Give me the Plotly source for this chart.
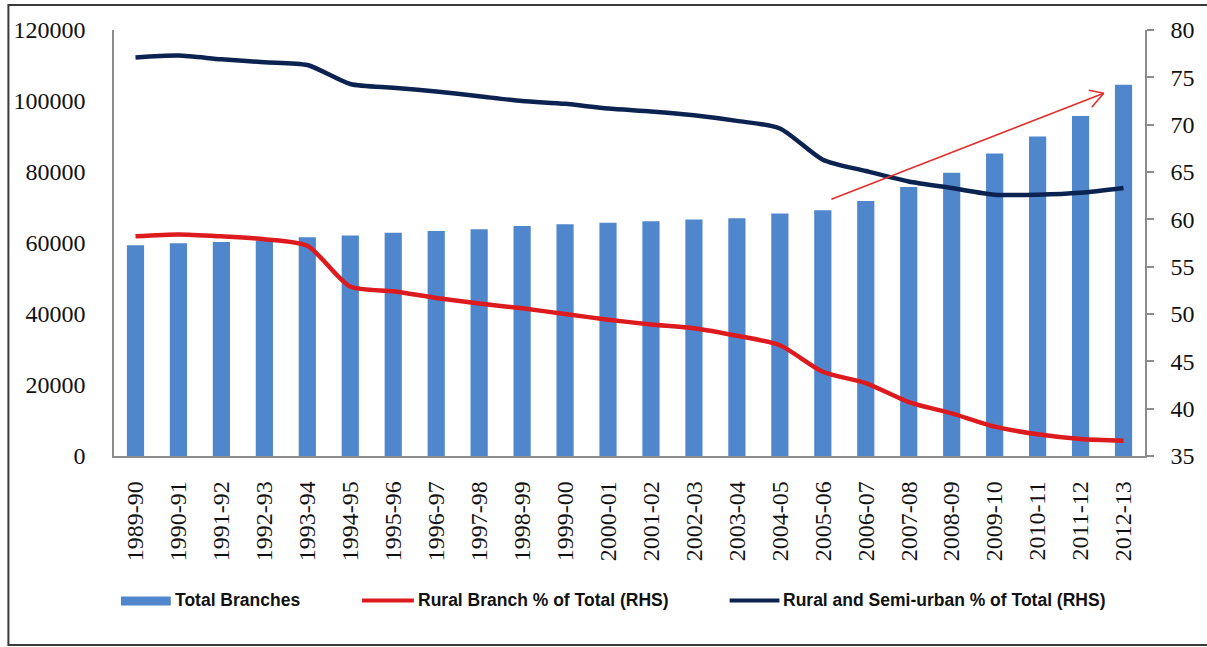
import plotly.graph_objects as go

# Financial years on the category axis
years = ["1989-90", "1990-91", "1991-92", "1992-93", "1993-94", "1994-95",
         "1995-96", "1996-97", "1997-98", "1998-99", "1999-00", "2000-01",
         "2001-02", "2002-03", "2003-04", "2004-05", "2005-06", "2006-07",
         "2007-08", "2008-09", "2009-10", "2010-11", "2011-12", "2012-13"]

# Total bank branches (left axis)
total_branches = [59400, 59900, 60300, 60700, 61600, 62100, 62900, 63400,
                  63900, 64800, 65300, 65700, 66100, 66600, 67000, 68300,
                  69200, 71800, 75800, 79800, 85200, 90000, 95800, 104600]

# Shares of total branches, in percent (right axis)
rural_pct = [58.2, 58.4, 58.2, 57.9, 57.2, 52.9, 52.4, 51.7, 51.1, 50.6,
             50.0, 49.4, 48.9, 48.5, 47.7, 46.7, 43.9, 42.7, 40.7, 39.5,
             38.1, 37.3, 36.8, 36.6]
rural_semi_pct = [77.1, 77.3, 76.9, 76.6, 76.3, 74.3, 73.9, 73.5, 73.0, 72.5,
                  72.2, 71.7, 71.4, 71.0, 70.4, 69.6, 66.3, 65.1, 64.0, 63.3,
                  62.6, 62.6, 62.8, 63.3]

left_ticks = [0, 20000, 40000, 60000, 80000, 100000, 120000]
right_ticks = [35, 40, 45, 50, 55, 60, 65, 70, 75, 80]

legend_names = ["Total Branches", "Rural Branch % of Total (RHS)",
                "Rural and Semi-urban % of Total (RHS)"]

BAR_COLOR = "#4F86CC"
RED = "#DD1A1E"
NAVY = "#0C2352"
AXIS_GREY = "#8C8C8C"
SERIF = "Liberation Serif, Times New Roman, serif"
SANS = "Liberation Sans, Arial, sans-serif"

W, H = 1207, 647
M_L, M_R, M_T, M_B = 114, 58, 30, 191
PW, PH = W - M_L - M_R, H - M_T - M_B


def px_x(x):
    return (x - M_L) / PW


def px_y(y):
    return (H - M_B - y) / PH


fig = go.Figure()

fig.add_trace(go.Bar(x=years, y=total_branches, name=legend_names[0],
                     marker=dict(color=BAR_COLOR, line=dict(width=0)),
                     yaxis="y"))
fig.add_trace(go.Scatter(x=years, y=rural_pct, name=legend_names[1],
                         mode="lines", yaxis="y2",
                         line=dict(color=RED, width=4.5, shape="spline",
                                   smoothing=0.7)))
fig.add_trace(go.Scatter(x=years, y=rural_semi_pct, name=legend_names[2],
                         mode="lines", yaxis="y2",
                         line=dict(color=NAVY, width=4.5, shape="spline",
                                   smoothing=0.7)))

shapes = []

# Outer frame around the whole chart
shapes.append(dict(type="rect", xref="paper", yref="paper",
                   x0=px_x(8), x1=px_x(1215), y0=px_y(645), y1=px_y(5),
                   line=dict(color="#3A3A3A", width=2), layer="below"))

# Trend arrow over the recent bars (tail and tip in axis units)
arrow_tail = (16.2, 72300)
arrow_tip = (22.54, 102200)
arrow_color = "#E0302C"
shapes.append(dict(type="line", xref="x", yref="y",
                   x0=arrow_tail[0], y0=arrow_tail[1],
                   x1=arrow_tip[0], y1=arrow_tip[1],
                   line=dict(color=arrow_color, width=1.6)))
for dx, dy in [(-15, 3), (-12, -14)]:
    shapes.append(dict(type="line", xref="x", yref="y",
                       xsizemode="pixel", ysizemode="pixel",
                       xanchor=arrow_tip[0], yanchor=arrow_tip[1],
                       x0=0, y0=0, x1=dx, y1=dy,
                       line=dict(color=arrow_color, width=1.6)))

# Legend swatches
leg_y = px_y(600.5)
shapes.append(dict(type="rect", xref="paper", yref="paper",
                   x0=px_x(121), x1=px_x(171), y0=px_y(605.5), y1=px_y(596.5),
                   fillcolor=BAR_COLOR, line=dict(width=0)))
shapes.append(dict(type="line", xref="paper", yref="paper",
                   x0=px_x(363), x1=px_x(415), y0=leg_y, y1=leg_y,
                   line=dict(color=RED, width=4)))
shapes.append(dict(type="line", xref="paper", yref="paper",
                   x0=px_x(732), x1=px_x(782), y0=leg_y, y1=leg_y,
                   line=dict(color=NAVY, width=4)))

annotations = []
for name, xpx in zip(legend_names, [173, 417, 784]):
    annotations.append(dict(text=name, xref="paper", yref="paper",
                            x=px_x(xpx), y=px_y(600), xanchor="left",
                            yanchor="middle", showarrow=False,
                            font=dict(family=SANS, size=17.5, color="#111111",
                                      weight="bold")))

fig.update_layout(
    width=W, height=H,
    margin=dict(l=M_L, r=M_R, t=M_T, b=M_B, pad=0),
    paper_bgcolor="white", plot_bgcolor="white",
    showlegend=False,
    bargap=0.6,
    xaxis=dict(type="category", showgrid=False, zeroline=False,
               showline=True, linecolor=AXIS_GREY, linewidth=1.5,
               ticks="", tickangle=-90, ticklabelstandoff=14,
               tickfont=dict(family=SERIF, size=24, color="#111111"),
               mirror=False),
    yaxis=dict(range=[0, 120000], tickvals=left_ticks,
               ticktext=[str(v) for v in left_ticks],
               showgrid=False, zeroline=False, showline=True,
               linecolor=AXIS_GREY, linewidth=1.5, ticks="",
               ticklabelstandoff=22,
               tickfont=dict(family=SERIF, size=24, color="#111111")),
    yaxis2=dict(range=[35, 80], tickvals=right_ticks,
                ticktext=[str(v) for v in right_ticks],
                overlaying="y", side="right", showgrid=False,
                zeroline=False, showline=True, linecolor=AXIS_GREY,
                linewidth=1.5, ticks="outside", ticklen=7,
                tickcolor=AXIS_GREY, tickwidth=1.5, ticklabelstandoff=12,
                tickfont=dict(family=SERIF, size=24, color="#111111")),
    shapes=shapes,
    annotations=annotations,
)

fig.write_html("out.html")
